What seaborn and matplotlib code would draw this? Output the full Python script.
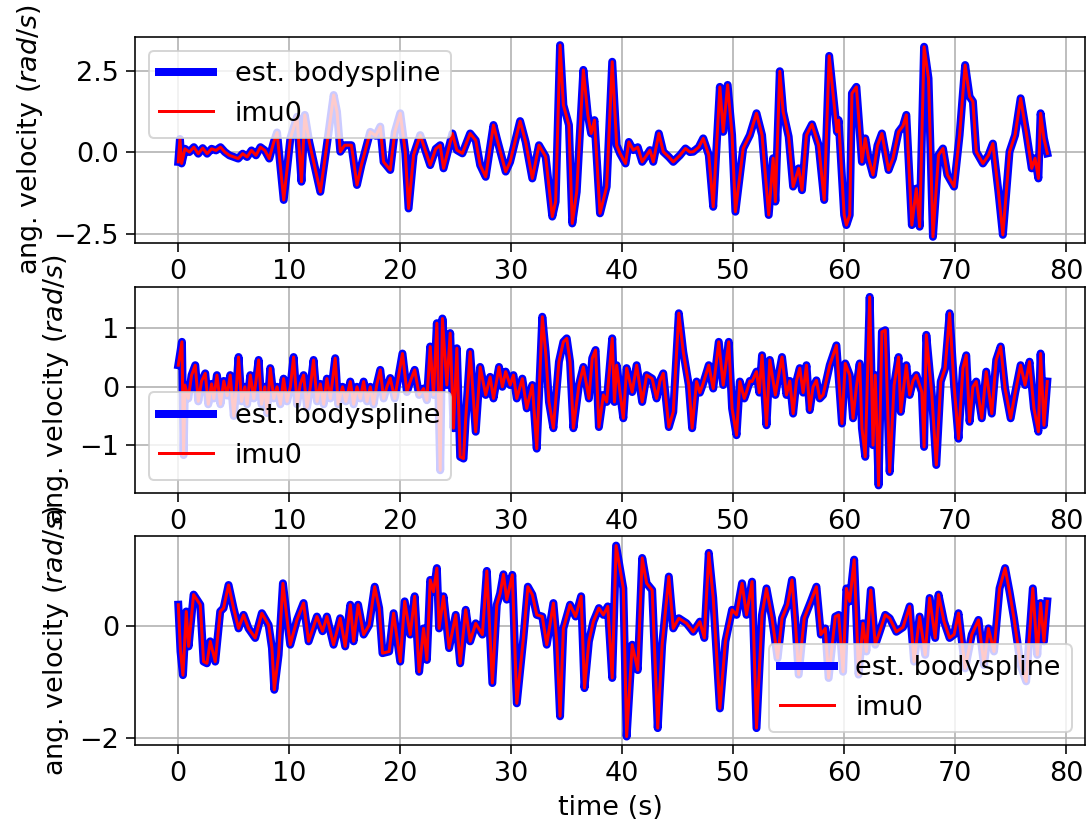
import matplotlib
matplotlib.use("Agg")
import matplotlib.pyplot as plt
import seaborn as sns

# ---- panel 1 (x axis angular velocity) ----
t1 = [0.0, 0.15, 0.3, 0.6, 1.0, 1.4, 1.8, 2.2, 2.6, 3.0, 3.4, 3.8, 4.2, 4.6, 5.0, 5.4, 5.8, 6.2, 6.6, 7.0,
      7.4, 7.8, 8.2, 8.6, 8.9, 9.5, 10.1, 10.7, 11.1, 11.4, 11.8, 12.8, 13.3, 14.0, 14.3, 14.6, 15.0, 15.6,
      16.1, 16.5, 17.3, 17.8, 18.2, 18.5, 19.1, 19.5, 20.0, 20.45, 20.75, 21.2, 21.8, 22.1, 22.7, 23.2,
      23.6, 23.9, 24.7, 25.1, 25.6, 26.3, 26.8, 27.2, 27.7, 28.4, 28.7, 29.5, 29.9, 30.8, 31.3, 31.9,
      32.5, 33.1, 33.7, 34.0, 34.4, 34.7, 35.2, 35.5, 35.9, 36.5, 36.9, 37.2, 37.5, 38.0, 38.6, 39.1,
      39.5, 39.8, 40.3, 40.6, 41.0, 41.4, 41.8, 42.2, 42.5, 42.8, 43.3, 43.7, 44.2, 44.6, 45.2, 45.7,
      46.1, 46.4, 46.9, 47.3, 47.8, 48.2, 48.8, 49.1, 49.5, 49.9, 50.2, 50.9, 51.5, 52.1, 52.6, 53.2,
      53.6, 53.8, 54.2, 54.5, 55.0, 55.4, 55.9, 56.2, 56.6, 57.1, 57.7, 58.2, 58.65, 59.2, 59.35, 59.5,
      60.0, 60.2, 60.5, 60.7, 61.1, 61.6, 61.9, 62.2, 62.6, 63.0, 63.4, 64.0, 64.4, 64.9, 65.3, 65.6,
      66.1, 66.5, 66.8, 67.2, 67.6, 68.0, 68.5, 68.9, 69.3, 69.9, 70.4, 70.9, 71.3, 71.6, 71.9, 72.5,
      73.0, 73.4, 73.9, 74.3, 74.9, 75.4, 75.9, 76.4, 76.9, 77.2, 77.5, 77.7, 78.0, 78.3]
w1 = [-0.30, 0.40, -0.35, 0.10, 0.0, 0.15, -0.05, 0.12, -0.05, 0.10, 0.05, 0.15, 0.0, -0.10, -0.15, -0.20,
      -0.05, -0.15, 0.05, -0.10, 0.15, 0.05, -0.20, 0.30, 0.60, -1.47, 0.42, 1.08, -0.91, 1.14, 0.31, -1.22,
      0.0, 1.75, 1.24, 0.01, 0.21, 0.21, -1.01, -0.40, 0.62, 0.50, 0.78, -0.30, -0.55, 0.60, 1.19, 0.01,
      -1.73, -0.09, 0.52, 0.21, -0.40, 0.10, 0.21, -0.50, 0.57, 0.06, -0.04, 0.57, 0.36, -0.40, -0.76,
      0.83, 0.42, -0.60, -0.30, 0.95, 0.31, -0.81, 0.21, -0.14, -1.98, -1.52, 3.28, 1.44, 0.83, -2.19,
      -1.22, 2.52, 1.14, 0.57, 0.98, -1.88, -1.06, 2.77, 0.21, -0.04, -0.35, 0.31, 0.06, 0.15, -0.30,
      -0.10, 0.06, -0.30, 0.57, 0.01, -0.15, -0.30, -0.10, 0.11, 0.0, 0.01, 0.15, 0.42, -0.09, -1.68,
      2.00, 0.62, 2.06, 0.52, -1.83, 0.11, 0.52, 1.19, 0.52, -1.93, -0.19, -1.52, 2.48, 1.24, 0.47,
      -1.06, -0.50, -1.17, 0.52, 0.85, 0.21, -1.47, 2.95, 1.14, 0.62, 0.98, -1.93, -2.24, -1.93, 1.80,
      2.00, -0.30, 0.42, -0.19, -0.70, 0.20, 0.57, -0.55, -0.19, 0.62, 0.80, 1.14, -2.24, -1.12, -2.29,
      3.23, 2.26, -2.60, -0.09, 0.11, -0.70, -1.06, 0.52, 2.67, 1.70, 1.55, 0.01, -0.35, -0.10, 0.26,
      -1.22, -2.54, 0.01, 0.52, 1.65, 0.62, -0.50, -0.19, -0.81, 1.19, 0.42, -0.04]

# ---- panel 2 (y axis angular velocity) ----
t2 = [0.0, 0.33, 0.48, 0.6, 0.9, 1.2, 1.53, 1.8, 2.1, 2.43, 2.7, 3.0, 3.2, 3.48, 3.8, 4.1, 4.4, 4.68, 5.0,
      5.2, 5.43, 5.7, 6.0, 6.2, 6.49, 6.8, 7.0, 7.24, 7.5, 7.8, 8.0, 8.29, 8.6, 8.9, 9.2, 9.49, 9.8, 10.1,
      10.39, 10.7, 11.0, 11.29, 11.6, 11.9, 12.19, 12.5, 12.8, 13.1, 13.39, 13.7, 14.14, 14.4, 14.8, 15.1,
      15.5, 15.8, 16.1, 16.4, 16.7, 17.0, 17.3, 17.6, 17.9, 18.2, 18.5, 18.8, 19.1, 19.5, 20.2, 20.6, 20.9,
      21.3, 21.7, 22.1, 22.4, 22.7, 23.0, 23.3, 23.6, 23.8, 24.2, 24.5, 24.8, 25.1, 25.4, 25.7, 25.9, 26.3,
      26.8, 27.2, 27.7, 28.1, 28.4, 28.9, 29.2, 29.5, 29.9, 30.2, 30.5, 31.0, 31.4, 31.9, 32.3, 32.8, 33.1,
      33.4, 33.8, 34.3, 34.7, 35.0, 35.3, 35.6, 36.1, 36.5, 37.0, 37.3, 37.6, 37.9, 38.3, 38.6, 39.1, 39.3,
      39.5, 39.8, 40.1, 40.4, 40.9, 41.3, 41.8, 42.2, 42.7, 43.1, 43.4, 43.7, 44.2, 44.6, 45.1, 45.5, 46.0,
      46.3, 46.7, 47.0, 47.3, 47.8, 48.2, 48.7, 49.1, 49.6, 49.9, 50.3, 50.6, 51.0, 51.2, 51.5, 51.7, 52.1,
      52.35, 52.6, 53.0, 53.3, 53.8, 54.1, 54.4, 54.8, 55.1, 55.4, 55.7, 56.0, 56.3, 56.6, 56.9, 57.2, 57.5,
      57.8, 58.1, 58.7, 59.3, 59.8, 60.1, 60.5, 60.8, 61.1, 61.4, 61.6, 61.9, 62.3, 62.6, 62.8, 63.1, 63.4,
      63.7, 64.1, 64.5, 64.9, 65.1, 65.6, 65.9, 66.2, 66.5, 67.0, 67.2, 67.4, 67.9, 68.3, 68.7, 69.1, 69.5,
      69.9, 70.3, 70.7, 71.0, 71.3, 71.6, 71.9, 72.4, 72.8, 73.3, 73.7, 74.1, 74.5, 75.0, 75.4, 75.9, 76.3,
      76.7, 77.1, 77.5, 77.7, 78.0, 78.3]
w2 = [0.37, 0.77, -1.17, 0.03, -0.20, 0.20, 0.37, -0.25, 0.10, 0.23, -0.30, 0.05, -0.20, 0.20, -0.30, 0.10,
      -0.15, 0.20, -0.50, -0.10, 0.51, -0.25, 0.0, -0.30, 0.20, -0.20, 0.10, 0.46, -0.30, 0.0, -0.45, 0.32,
      -0.20, 0.0, -0.30, 0.14, -0.25, 0.0, 0.51, -0.30, 0.05, 0.20, -0.35, 0.0, 0.46, -0.25, 0.05, -0.30,
      0.14, -0.20, 0.49, -0.30, 0.0, -0.25, 0.09, -0.30, 0.0, -0.20, 0.09, -0.25, 0.0, -0.30, 0.05, 0.29,
      -0.20, 0.0, 0.15, -0.20, 0.57, -0.09, 0.09, 0.29, -0.14, -0.03, -0.23, 0.69, -0.14, 1.09, -1.43, 1.17,
      0.03, 0.92, -0.71, 0.66, -1.20, -1.23, -0.54, 0.60, -0.77, 0.34, -0.14, 0.17, -0.20, 0.34, 0.0, 0.26,
      0.03, 0.20, -0.20, 0.14, -0.37, 0.03, -1.06, 1.20, 0.60, -0.26, -0.71, 0.43, 0.77, 0.83, 0.43, -0.71,
      0.03, 0.34, -0.20, 0.49, 0.63, -0.69, -0.14, -0.26, 0.83, -0.26, 0.37, -0.10, -0.54, 0.32, -0.09, 0.37,
      -0.26, 0.20, 0.14, -0.20, 0.10, 0.23, -0.69, -0.43, 1.26, 0.60, 0.03, -0.71, 0.09, -0.10, 0.06, 0.37,
      -0.03, 0.77, 0.03, 0.77, -0.37, -0.83, 0.09, -0.20, -0.09, 0.10, 0.09, 0.26, -0.10, 0.54, -0.66, 0.46,
      -0.14, 0.20, 0.51, -0.14, 0.10, -0.46, 0.10, 0.32, -0.10, 0.37, -0.40, 0.0, 0.11, -0.20, -0.14, 0.37,
      0.71, -0.63, 0.40, 0.20, -0.54, 0.0, 0.40, -0.71, -1.20, 1.54, -1.00, 0.20, -1.69, 0.94, 0.97, -1.46,
      0.03, 0.51, -0.43, 0.37, -0.14, 0.10, 0.20, -0.09, -1.03, 0.89, -0.14, -1.34, 0.09, 0.32, 1.26, 0.03,
      -0.89, 0.32, 0.54, -0.60, 0.0, 0.09, -0.54, 0.26, -0.46, 0.46, 0.69, -0.03, -0.54, -0.11, 0.37, 0.03,
      0.43, -0.37, -0.77, 0.57, -0.66, 0.09]

# ---- panel 3 (z axis angular velocity) ----
t3 = [0.0, 0.2, 0.42, 0.72, 0.93, 1.38, 1.98, 2.28, 2.58, 2.88, 3.33, 3.78, 4.08, 4.53, 4.98, 5.43, 5.88,
      6.33, 6.93, 7.53, 8.14, 8.44, 8.65, 9.04, 9.43, 9.79, 10.09, 10.69, 11.29, 11.74, 12.49, 13.0, 13.39,
      13.99, 14.59, 15.04, 15.5, 15.8, 16.2, 16.7, 17.2, 17.7, 18.1, 18.4, 19.0, 19.4, 20.0, 20.4, 20.9,
      21.3, 21.7, 22.1, 22.4, 22.7, 23.0, 23.3, 23.5, 23.9, 24.4, 25.0, 25.4, 25.9, 26.3, 26.8, 27.4, 27.8,
      28.3, 28.7, 29.0, 29.3, 29.6, 30.1, 30.5, 31.1, 31.5, 31.9, 32.3, 32.8, 33.2, 33.8, 34.1, 34.4, 34.7,
      35.3, 35.8, 36.3, 36.6, 37.0, 37.4, 37.9, 38.3, 38.7, 39.1, 39.45, 40.1, 40.4, 40.9, 41.4, 41.8, 42.2,
      42.7, 43.2, 43.6, 44.2, 44.6, 45.1, 45.8, 46.4, 47.0, 47.4, 47.8, 48.2, 48.8, 49.3, 49.9, 50.3, 50.8,
      51.2, 51.7, 52.1, 52.6, 53.0, 53.5, 54.0, 54.4, 54.9, 55.3, 55.6, 55.9, 56.4, 57.0, 57.5, 57.9, 58.3,
      58.6, 59.2, 59.5, 59.9, 60.2, 60.5, 60.9, 61.3, 61.7, 62.0, 62.4, 62.8, 63.2, 63.7, 64.1, 64.7, 65.3,
      65.9, 66.3, 66.8, 67.3, 67.7, 68.2, 68.5, 69.0, 69.5, 69.9, 70.3, 70.9, 71.5, 72.1, 72.6, 73.0, 73.5,
      74.0, 74.5, 74.9, 75.3, 75.9, 76.4, 77.0, 77.4, 77.7, 78.0, 78.3]
w3 = [0.37, -0.46, -0.88, 0.25, -0.37, 0.55, 0.37, -0.64, -0.67, -0.28, -0.64, 0.25, 0.31, 0.72, 0.31, -0.05,
      0.19, -0.05, -0.22, 0.22, 0.01, -0.40, -1.14, -0.52, 0.75, 0.13, -0.34, 0.10, 0.40, -0.28, 0.16, -0.10,
      0.16, -0.34, 0.13, -0.37, 0.37, -0.28, 0.37, -0.16, 0.01, 0.69, 0.31, -0.49, -0.46, 0.22, -0.64, 0.43,
      -0.16, 0.52, -0.82, -0.05, -0.61, 0.81, 0.60, 1.02, -0.05, 0.52, -0.40, 0.19, -0.67, 0.28, -0.28, 0.04,
      -0.16, 0.97, -1.02, 0.37, 0.57, 0.91, 0.46, 0.90, -1.38, -0.22, 0.69, 0.55, 0.19, 0.16, -0.34, 0.40,
      -0.28, -1.61, -0.05, 0.37, 0.16, 0.52, -1.11, -0.28, 0.07, 0.31, 0.19, 0.34, -0.93, 1.42, 0.66, -1.97,
      -0.34, -0.79, 1.20, 0.75, 0.63, -1.82, -0.34, 0.87, -0.05, 0.13, 0.04, -0.11, 0.07, -0.22, 1.29, 0.49,
      -1.47, -0.28, 0.28, 0.19, 0.75, 0.19, 0.78, -1.82, 0.19, 0.66, 0.13, -0.58, 0.13, 0.37, 0.81, 0.07,
      -0.87, 0.13, 0.43, 0.69, -0.16, -0.05, -0.93, 0.16, 0.19, -0.82, 0.66, 0.43, 1.17, -0.87, 0.04, -0.46,
      0.63, -0.34, -0.11, 0.19, 0.13, -0.11, -0.03, 0.34, -0.64, 0.16, -0.52, 0.49, -0.22, 0.55, 0.07, -0.22,
      -0.16, 0.22, -0.76, -0.16, 0.10, -0.70, -0.05, -0.46, 0.66, 1.02, 0.60, 0.13, -0.70, -0.99, 0.66,
      -0.52, 0.40, -0.28, 0.43]

times = [t1, t2, t3]
values = [w1, w2, w3]
ylims = [(-2.79, 3.53), (-1.82, 1.71), (-2.12, 1.59)]
yticks = [[-2.5, 0.0, 2.5], [-1, 0, 1], [-2, 0]]
legend_locs = ["upper left", "lower left", "lower right"]
xticks = [0, 10, 20, 30, 40, 50, 60, 70, 80]
series_labels = ["est. bodyspline", "imu0"]

W, H, DPI = 1087, 827, 144
plt.rcParams['font.family'] = ['DejaVu Sans']
plt.rcParams['font.size'] = 13.5
plt.rcParams['xtick.major.size'] = 4.5
plt.rcParams['ytick.major.size'] = 4.5
fig = plt.figure(figsize=(W / DPI, H / DPI), dpi=DPI)

boxes = [(37, 243), (287, 493), (536, 745)]
left_px, right_px = 135, 1085
for i, (top, bot) in enumerate(boxes):
    ax = fig.add_axes([left_px / W, 1 - bot / H, (right_px - left_px) / W, (bot - top) / H])
    sns.lineplot(x=times[i], y=values[i], ax=ax, color="blue", linewidth=4,
                 label=series_labels[0], estimator=None, sort=False)
    sns.lineplot(x=times[i], y=values[i], ax=ax, color="red", linewidth=1.5,
                 label=series_labels[1], estimator=None, sort=False)
    ax.set_xlim(-3.9, 81.7)
    ax.set_ylim(*ylims[i])
    ax.set_yticks(yticks[i])
    ax.set_xticks(xticks)
    ax.grid(True)
    ax.set_ylabel("ang. velocity ($rad/s$)")
    ax.set_xlabel("time (s)" if i == 2 else "")
    ax.legend(loc=legend_locs[i])

fig.savefig("out.png", dpi=DPI)
